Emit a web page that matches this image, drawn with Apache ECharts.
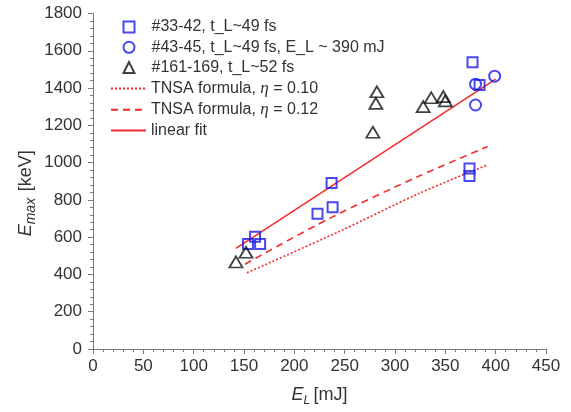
<!DOCTYPE html>
<html>
<head>
<meta charset="utf-8">
<script src="https://cdn.jsdelivr.net/npm/echarts@6/dist/echarts.min.js"></script>
<style>
  html, body { margin: 0; padding: 0; background: #fff; }
  #chart { width: 571px; height: 412px; }
</style>
</head>
<body>
<div id="chart"></div>
<script>
// Laser pulse energy E_L [mJ] vs. maximum proton energy E_max [keV]
const seriesNames = [
  '#33-42, t_L~49 fs',
  '#43-45, t_L~49 fs, E_L ~ 390 mJ',
  '#161-169, t_L~52 fs',
  'TNSA formula, η = 0.10',
  'TNSA formula, η = 0.12',
  'linear fit'
];

const shots33to42 = [
  [154, 564], [161, 602], [166, 564], [223, 725], [238, 760],
  [237, 890], [377, 1539], [374, 969], [374, 928], [384, 1416]
];
const shots43to45 = [[380, 1421], [399, 1464], [380, 1309]];
const shots161to169 = [
  [142, 467], [152, 519], [282, 1380], [281, 1318], [278, 1163],
  [328, 1300], [336, 1348], [348, 1354], [350, 1331]
];
const tnsaEta010 = [[153, 409], [244, 629], [324, 835], [392, 988]];
const tnsaEta012 = [[151, 455], [235, 701], [324, 928], [392, 1086]];
const linearFit = [[142, 540], [400, 1448]];

const xTicks = { min: 0, max: 450, step: 50 };
const yTicks = { min: 0, max: 1800, step: 200 };

const blue = '#1c1ce8';
const red = '#f42a2a';
const axisGray = '#7a7a7a';
const textGray = '#333';
const sans = 'Liberation Sans, Arial, sans-serif';
const serif = 'Liberation Serif, Times New Roman, serif';

const chart = echarts.init(document.getElementById('chart'), null, { renderer: 'canvas' });

const axisCommon = {
  axisLine: { show: true, lineStyle: { color: axisGray, width: 1 } },
  axisTick: { show: true, inside: false, length: 5, lineStyle: { color: axisGray } },
  minorTick: { show: true, splitNumber: 5, length: 3, lineStyle: { color: axisGray } },
  splitLine: { show: false },
  nameMoveOverlap: false,
  axisLabel: {
    color: textGray, fontSize: 17, fontFamily: sans,
    formatter: function (v) { return String(v); }
  }
};

const legendText = {
  color: textGray,
  fontSize: 16,
  fontFamily: sans,
  rich: {
    sp: { width: 12, fontSize: 16 },
    eta: { fontSize: 17, fontStyle: 'italic', fontFamily: serif, color: textGray }
  }
};

chart.setOption({
  animation: false,
  backgroundColor: '#fff',
  grid: { left: 93, right: 25, top: 13.5, bottom: 63, containLabel: false },
  legend: [
    {
      // marker legend: narrow icons, text pushed right to line up with the line legend
      orient: 'vertical',
      left: 117.5,
      top: 14,
      padding: 5,
      itemWidth: 11,
      itemHeight: 11,
      itemGap: 4.3,
      data: seriesNames.slice(0, 3),
      textStyle: legendText,
      formatter: function (name) { return '{sp| }' + name; }
    },
    {
      orient: 'vertical',
      left: 105,
      top: 75,
      padding: 5,
      itemWidth: 35,
      itemHeight: 11,
      itemGap: 4.3,
      data: seriesNames.slice(3),
      textStyle: legendText,
      formatter: function (name) { return name.replace('η', '{eta|η}'); }
    }
  ],
  xAxis: Object.assign({}, axisCommon, {
    type: 'value',
    min: xTicks.min,
    max: xTicks.max,
    interval: xTicks.step,
    axisLabel: Object.assign({}, axisCommon.axisLabel, { margin: 9 }),
    name: '{e|E}{sub|L} {u|[mJ]}',
    nameLocation: 'middle',
    nameGap: 34,
    nameTextStyle: {
      rich: {
        e: { fontSize: 18, fontStyle: 'italic', color: textGray, fontFamily: sans },
        sub: { fontSize: 12, fontStyle: 'italic', color: textGray, padding: [12, 0, 0, 0], fontFamily: sans },
        u: { fontSize: 18, color: textGray, fontFamily: sans }
      }
    }
  }),
  yAxis: Object.assign({}, axisCommon, {
    type: 'value',
    min: yTicks.min,
    max: yTicks.max,
    interval: yTicks.step,
    axisLabel: Object.assign({}, axisCommon.axisLabel, { margin: 11 }),
    name: '{e|E}{sub|max}  {u|[keV]}',
    nameLocation: 'middle',
    nameRotate: 90,
    nameGap: 55,
    nameTextStyle: {
      padding: [0, 24, 0, 0],
      rich: {
        e: { fontSize: 18, fontStyle: 'italic', color: textGray, fontFamily: sans },
        sub: { fontSize: 14, fontStyle: 'italic', color: textGray, padding: [10, 0, 0, 0], fontFamily: sans },
        u: { fontSize: 18, color: textGray, fontFamily: sans }
      }
    }
  }),
  series: [
    {
      name: seriesNames[0],
      type: 'scatter',
      symbol: 'rect',
      symbolSize: 10,
      data: shots33to42,
      itemStyle: { color: 'rgba(0,0,0,0)', borderColor: blue, borderWidth: 2 },
      z: 3
    },
    {
      name: seriesNames[1],
      type: 'scatter',
      symbol: 'circle',
      symbolSize: 11,
      data: shots43to45,
      itemStyle: { color: 'rgba(0,0,0,0)', borderColor: blue, borderWidth: 2 },
      z: 3
    },
    {
      name: seriesNames[2],
      type: 'scatter',
      symbol: 'triangle',
      symbolSize: [13, 11],
      data: shots161to169,
      itemStyle: { color: 'rgba(0,0,0,0)', borderColor: '#111', borderWidth: 1.8 },
      z: 3
    },
    {
      name: seriesNames[3],
      type: 'line',
      symbol: 'none',
      smooth: 0.3,
      data: tnsaEta010,
      lineStyle: { color: red, width: 1.6, type: [2, 2] },
      itemStyle: { color: 'rgba(0,0,0,0)', borderColor: 'rgba(0,0,0,0)' },
      z: 2
    },
    {
      name: seriesNames[4],
      type: 'line',
      symbol: 'none',
      smooth: 0.3,
      data: tnsaEta012,
      lineStyle: { color: red, width: 1.6, type: [7, 5] },
      itemStyle: { color: 'rgba(0,0,0,0)', borderColor: 'rgba(0,0,0,0)' },
      z: 2
    },
    {
      name: seriesNames[5],
      type: 'line',
      symbol: 'none',
      data: linearFit,
      lineStyle: { color: red, width: 1.5, type: 'solid' },
      itemStyle: { color: 'rgba(0,0,0,0)', borderColor: 'rgba(0,0,0,0)' },
      z: 2
    }
  ]
});
</script>
</body>
</html>
